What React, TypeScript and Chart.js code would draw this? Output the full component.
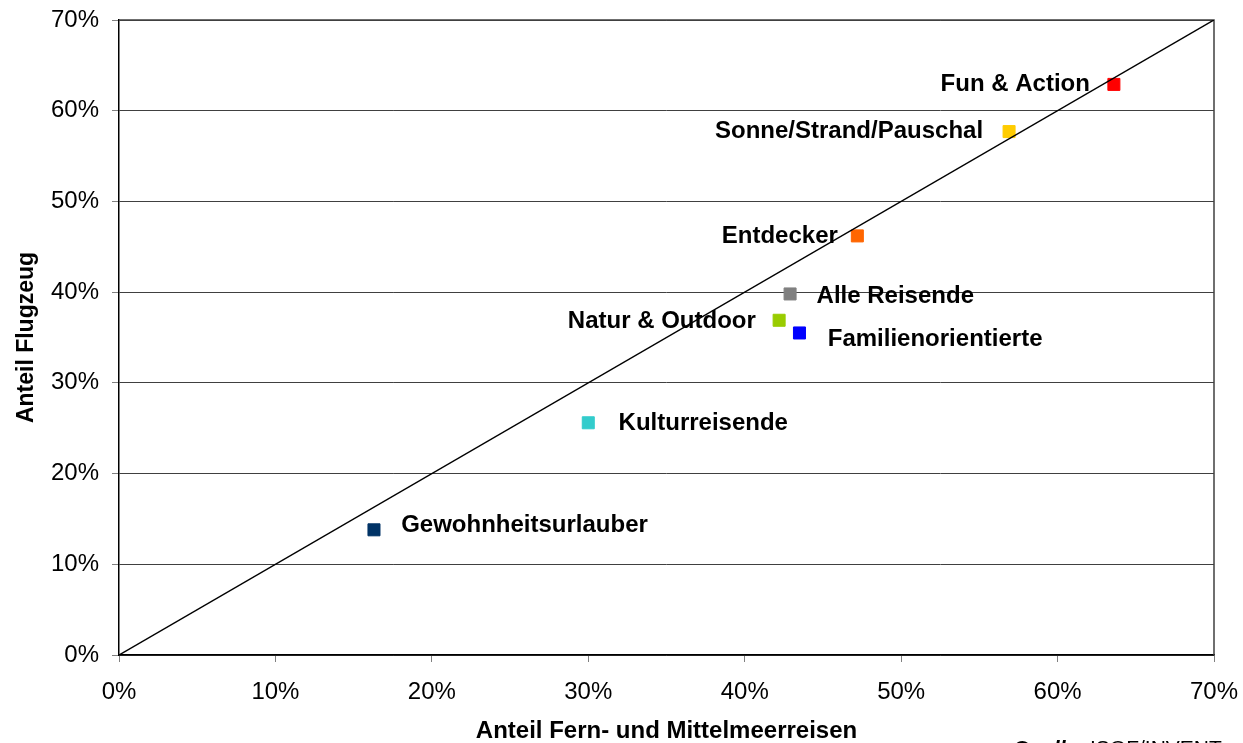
import React, { useEffect, useRef } from "react";
import { Chart, registerables } from "chart.js";

Chart.register(...registerables);

// ---- data ----
const segments = [
  "Fun & Action",
  "Sonne/Strand/Pauschal",
  "Entdecker",
  "Alle Reisende",
  "Natur & Outdoor",
  "Familienorientierte",
  "Kulturreisende",
  "Gewohnheitsurlauber",
];
const anteilFern = [63.6, 56.9, 47.2, 42.9, 42.2, 43.5, 30.0, 16.3];
const anteilFlugzeug = [62.9, 57.7, 46.2, 39.8, 36.9, 35.5, 25.6, 13.8];
const markerColors = [
  "#FF0000",
  "#FFCC00",
  "#FF6600",
  "#808080",
  "#99CC00",
  "#0000FF",
  "#33CCCC",
  "#003366",
];
const diagonalX = [0, 70];
const diagonalY = [0, 70];
const axisMin = 0;
const axisMax = 70;
const axisStep = 10;
const xTitle = "Anteil Fern- und Mittelmeerreisen";
const yTitle = "Anteil Flugzeug";
const sourceLabel = "Quelle:";
const sourceText = " ISOF/INVENT";

// ---- label placement (style) ----
const labelPlacement = [
  { align: "right", dx: -24, dy: 7 },
  { align: "right", dx: -26, dy: 6.4 },
  { align: "right", dx: -19.5, dy: 7 },
  { align: "left", dx: 26.5, dy: 8.6 },
  { align: "right", dx: -23.3, dy: 7.6 },
  { align: "left", dx: 28.3, dy: 13.3 },
  { align: "left", dx: 30.3, dy: 7 },
  { align: "left", dx: 27.2, dy: 2.2 },
];

const FONT = "'Liberation Sans', Arial, Helvetica, sans-serif";

const decorPlugin = {
  id: "decor",
  beforeDatasetsDraw(chart: any) {
    const { ctx, chartArea } = chart;
    ctx.save();
    ctx.strokeStyle = "#404040";
    ctx.lineWidth = 1.5;
    ctx.beginPath();
    ctx.moveTo(chartArea.left, chartArea.top);
    ctx.lineTo(chartArea.right, chartArea.top);
    ctx.lineTo(chartArea.right, chartArea.bottom);
    ctx.stroke();
    ctx.restore();
  },
  afterDatasetsDraw(chart: any) {
    const { ctx } = chart;
    const meta = chart.getDatasetMeta(1);
    ctx.save();
    ctx.fillStyle = "#000";
    ctx.font = `bold 24px ${FONT}`;
    ctx.textBaseline = "alphabetic";
    meta.data.forEach((el: any, i: number) => {
      const p = labelPlacement[i];
      ctx.textAlign = p.align;
      ctx.fillText(segments[i], el.x + p.dx, el.y + p.dy);
    });
    // source note
    ctx.textAlign = "left";
    ctx.font = `italic bold 21px ${FONT}`;
    const x0 = 1013;
    const yb = 755;
    ctx.fillText(sourceLabel, x0, yb);
    const w = ctx.measureText(sourceLabel).width;
    ctx.font = `21px ${FONT}`;
    ctx.fillText(sourceText, x0 + w, yb);
    ctx.restore();
  },
};

export default function App() {
  const ref = useRef<HTMLCanvasElement | null>(null);

  useEffect(() => {
    if (!ref.current) return;
    const pct = (v: any) => v + "%";
    const chart = new Chart(ref.current, {
      type: "scatter",
      data: {
        datasets: [
          {
            type: "line",
            data: diagonalX.map((x, i) => ({ x, y: diagonalY[i] })),
            borderColor: "#000",
            borderWidth: 1.5,
            pointRadius: 0,
            fill: false,
            order: 0,
          } as any,
          {
            type: "scatter",
            data: anteilFern.map((x, i) => ({ x, y: anteilFlugzeug[i] })),
            backgroundColor: markerColors,
            borderColor: markerColors,
            borderWidth: 1,
            pointStyle: "rect",
            pointRadius: 8.5,
            order: 1,
          } as any,
        ],
      },
      options: {
        animation: false,
        responsive: false,
        devicePixelRatio: 1,
        layout: { padding: { left: 0, top: 20, right: 29, bottom: 0 } },
        plugins: {
          legend: { display: false },
          tooltip: { enabled: false },
        },
        scales: {
          x: {
            type: "linear",
            min: axisMin,
            max: axisMax,
            ticks: {
              stepSize: axisStep,
              callback: pct,
              color: "#000",
              font: { family: FONT, size: 24 },
              padding: 16,
              maxRotation: 0,
            },
            grid: {
              drawOnChartArea: false,
              drawTicks: true,
              tickLength: 7,
              tickColor: "#808080",
            },
            border: { color: "#000", width: 1.5 },
            title: {
              display: true,
              text: xTitle,
              color: "#000",
              font: { family: FONT, size: 24, weight: "bold", lineHeight: 1 },
              padding: { top: 0, bottom: 0 },
            },
            afterFit: (s: any) => {
              s.height = 88;
              s.paddingLeft = 0;
              s.paddingRight = 0;
              s.paddingTop = 0;
              s.paddingBottom = 0;
            },
          },
          y: {
            type: "linear",
            min: axisMin,
            max: axisMax,
            ticks: {
              stepSize: axisStep,
              callback: pct,
              color: "#000",
              font: { family: FONT, size: 24 },
              padding: 13,
            },
            grid: {
              drawOnChartArea: true,
              drawTicks: true,
              tickLength: 7,
              color: "#404040",
              tickColor: "#808080",
              lineWidth: 1,
            },
            border: { color: "#000", width: 1.5 },
            title: {
              display: true,
              text: yTitle,
              color: "#000",
              font: { family: FONT, size: 23, weight: "bold", lineHeight: 1 },
              padding: { top: 15, bottom: 0 },
            },
            afterFit: (s: any) => {
              s.width = 119;
              s.paddingLeft = 0;
              s.paddingRight = 0;
              s.paddingTop = 0;
              s.paddingBottom = 0;
            },
          },
        },
      } as any,
      plugins: [decorPlugin],
    });
    return () => chart.destroy();
  }, []);

  return (
    <div style={{ position: "absolute", left: 0, top: 0, width: 1243, height: 743, background: "#fff" }}>
      <canvas ref={ref} width={1243} height={743} style={{ display: "block" }} />
    </div>
  );
}
